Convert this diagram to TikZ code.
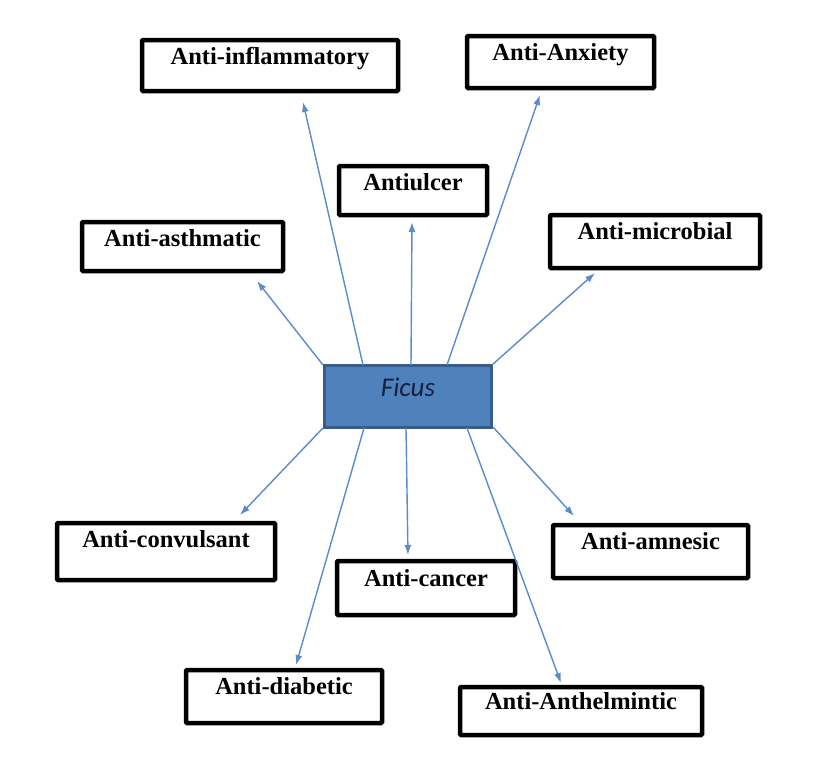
\documentclass[tikz,border=0pt]{standalone}
\usepackage{fontspec}
\setmainfont{Liberation Serif}
\newfontfamily\ficusfont{Carlito}
\usetikzlibrary{arrows.meta,calc}
\definecolor{ficfill}{HTML}{4F81BD}
\definecolor{ficdraw}{HTML}{385D8A}
\definecolor{arrcol}{HTML}{5B8BC8}
\definecolor{fictext}{HTML}{14213A}
\begin{document}
\begin{tikzpicture}[x=1pt,y=-1pt,
  obox/.style={draw=black,line width=4.5pt,fill=white,rounded corners=1pt,inner sep=0pt},
  lbl/.style={font=\fontsize{24.5}{28}\selectfont\bfseries,anchor=base,inner sep=0pt},
  conn/.style={draw=arrcol,line width=1.4pt,-{Latex[length=10pt,width=7pt]}}]
\useasboundingbox (0,0) rectangle (821,766);

% centre
\node[draw=ficdraw,fill=ficfill,line width=3pt,minimum width=167pt,minimum height=62pt,inner sep=0pt] (fic) at (408,396.5) {};
\node[font=\ficusfont\itshape\fontsize{27}{30}\selectfont,text=fictext,anchor=base,inner sep=0pt] (fict) at (408,396) {Ficus};

% boxes
\node[obox,minimum width=256pt,minimum height=51pt] (ai) at (270,65.5) {};
\node[lbl] (ait) at ([yshift=-27pt]ai.north) {Anti-inflammatory};
\node[obox,minimum width=187pt,minimum height=52pt] (aa) at (560.5,62) {};
\node[lbl] (aat) at ([yshift=-27pt]aa.north) {Anti-Anxiety};
\node[obox,minimum width=148pt,minimum height=49pt] (au) at (413,190.5) {};
\node[lbl] (aut) at ([yshift=-27pt]au.north) {Antiulcer};
\node[obox,minimum width=201pt,minimum height=49pt] (as) at (182.5,246.5) {};
\node[lbl] (ast) at ([yshift=-27pt]as.north) {Anti-asthmatic};
\node[obox,minimum width=210pt,minimum height=53pt] (am) at (655,241.5) {};
\node[lbl] (amt) at ([yshift=-27pt]am.north) {Anti-microbial};
\node[obox,minimum width=218pt,minimum height=57pt] (ac) at (166,551.5) {};
\node[lbl] (act) at ([yshift=-27pt]ac.north) {Anti-convulsant};
\node[obox,minimum width=178pt,minimum height=54pt] (ca) at (426,588) {};
\node[lbl] (cat) at ([yshift=-28pt]ca.north) {Anti-cancer};
\node[obox,minimum width=195pt,minimum height=53pt] (an) at (650.5,551.5) {};
\node[lbl] (ant) at ([yshift=-27pt]an.north) {Anti-amnesic};
\node[obox,minimum width=196pt,minimum height=53pt] (ad) at (284,696.5) {};
\node[lbl] (adt) at ([yshift=-27pt]ad.north) {Anti-diabetic};
\node[obox,minimum width=242pt,minimum height=48pt] (ah) at (581,711) {};
\node[lbl] (aht) at ([yshift=-25pt]ah.north) {Anti-Anthelmintic};

% start points on Ficus
\coordinate (s1) at (323,365);
\coordinate (s2) at (363,365);
\coordinate (s3) at (411,365);
\coordinate (s4) at (447,365);
\coordinate (s5) at (492,365);
\coordinate (b1) at (323,428);
\coordinate (b2) at (364,428);
\coordinate (b3) at (406,428);
\coordinate (b4) at (467,428);
\coordinate (b5) at (493,427);
% tips
\coordinate (tas) at (257,281);
\coordinate (tai) at (303,102);
\coordinate (tau) at (412,222);
\coordinate (taa) at (540,95);
\coordinate (tam) at (595,273);
\coordinate (tac) at (240,515);
\coordinate (tad) at (296,665);
\coordinate (tca) at (408,555);
\coordinate (tah) at (561,683);
\coordinate (tan) at (574,516);

\draw[conn] (s1) -- (tas);
\draw[conn] (s2) -- (tai);
\draw[conn] (s3) -- (tau);
\draw[conn] (s4) -- (taa);
\draw[conn] (s5) -- (tam);
\draw[conn] (b1) -- (tac);
\draw[conn] (b2) -- (tad);
\draw[conn] (b3) -- (tca);
\draw[conn] (b4) -- (tah);
\draw[conn] (b5) -- (tan);
\end{tikzpicture}
\end{document}
